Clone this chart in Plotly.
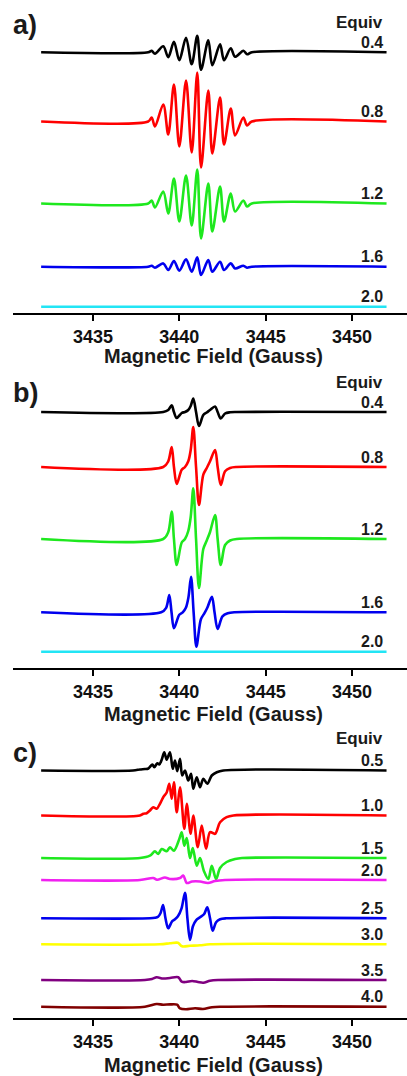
import plotly.graph_objects as go

# ---------------- data ----------------
# Panel a) : extrema positions (Gauss) shared by traces of the panel
a_field = [3432.0, 3438.20, 3438.40, 3438.59, 3439.07, 3439.36, 3439.69, 3440.00, 3440.39, 3440.72,
           3441.04, 3441.26, 3441.68, 3441.91, 3442.36, 3442.59, 3442.98, 3443.23, 3443.71, 3443.92,
           3444.20, 3452.0]
a_black = [0, 0, 1.5, -1.5, 6, -5, 10.5, -8, 14.5, -12, 16.5, -17.5, 12, -13, 8, -8, 4, -4.5, 1.5, -2, 0, 0]
a_red = [0, 0, 4, -5, 17, -13, 37, -25, 41, -31, 49, -46, 31, -32, 24, -23, 13, -14, 4, -4, 0, 0]
a_green = [0, 0, 3, -4, 12, -10, 25, -18, 28, -22, 34, -35, 20, -28, 17, -18, 10, -8, 3, -3, 0, 0]
a_blue = [0, 0, 1, -1, 3.3, -3.3, 5.7, -4, 7.3, -5, 9.3, -8.3, 6.7, -5, 5, -3.3, 3.3, -1.7, 1, -1, 0, 0]
a_cyan_field = [3432.0, 3452.0]
a_cyan = [0, 0]
a_labels = ["0.4", "0.8", "1.2", "1.6", "2.0"]

# Panel b)
b_field = [3432.0, 3439.07, 3439.36, 3439.56, 3439.69, 3439.85, 3440.14, 3440.33, 3440.52, 3440.66,
           3440.81, 3440.97, 3441.14, 3441.39, 3441.59, 3441.78, 3442.07, 3442.22, 3442.40, 3442.65,
           3442.94, 3443.32, 3452.0]
b_black = [0, 0, 2, 6.7, 0, -6, -1, 0, 2, 6, 13.4, 0, -14, -3, -0.5, 2, 5.5, 0, -6.5, -1.5, -0.3, 0, 0]
b_red = [0, 0, 5.7, 20, 0, -17, -2.7, 0, 5.7, 17, 40, 0, -38, -7.7, -1, 5.7, 17, 0, -18, -4.3, -1, 0, 0]
b_green = [0, 0, 7, 27.5, 0, -26, -3.5, 0, 8, 22, 50.7, 0, -49, -10, -1.5, 7, 24, 0, -26, -6, -1.5, 0, 0]
b_blue_field = [3432.0, 3438.95, 3439.24, 3439.42, 3439.55, 3439.69, 3440.00, 3440.20, 3440.38, 3440.53,
                3440.68, 3440.83, 3440.99, 3441.25, 3441.45, 3441.62, 3441.89, 3442.04, 3442.22, 3442.50,
                3442.80, 3443.20, 3452.0]
b_blue = [0, 0, 4.5, 17.3, 0, -16, -2.5, 0, 4.5, 15, 35.6, 0, -34.4, -7, -1, 4.5, 15.6, 0, -16.7, -4, -1, 0, 0]
b_cyan_field = [3432.0, 3452.0]
b_cyan = [0, 0]
b_labels = ["0.4", "0.8", "1.2", "1.6", "2.0"]

# Panel c)
c_black_field = [3432.0, 3437.32, 3437.72, 3438.01, 3438.21, 3438.44, 3438.55, 3438.73, 3438.84, 3438.98,
                 3439.13, 3439.27, 3439.46, 3439.62, 3439.75, 3439.88, 3440.04, 3440.17, 3440.33, 3440.52,
                 3440.68, 3440.81, 3441.01, 3441.20, 3441.39, 3441.62, 3441.88, 3442.17, 3442.55, 3452.0]
c_black = [0, 0, 1, 1.5, 2, 6, 3.3, 7.3, 6, 10.7, 18.3, 10.7, 18.3, 1.7, 10, -0.7, 11.7, -5, 0, -10,
           -3.3, -18.3, -6.7, -16.7, -8.3, -13.3, -5, -1.7, 0, 0]
c_red_field = [3432.0, 3437.72, 3437.92, 3438.11, 3438.30, 3438.49, 3438.69, 3438.88, 3439.07, 3439.27,
               3439.42, 3439.56, 3439.69, 3439.85, 3440.04, 3440.29, 3440.43, 3440.66, 3440.81, 3441.07,
               3441.30, 3441.55, 3441.78, 3442.07, 3442.36, 3442.74, 3443.13, 3452.0]
c_red = [0, 0, 1.7, 2.3, 5, 8.3, 6.7, 11.7, 18.3, 23, 31.7, 16.7, 33.3, 3.3, 28.3, -13.3, 11.7, -18.3, 0,
         -31.7, -10, -33.3, -16.7, -18.3, -6.7, -1.7, 0, 0]
c_green_field = [3432.0, 3437.72, 3438.30, 3438.59, 3438.78, 3438.98, 3439.27, 3439.46, 3439.69, 3440.00,
                 3440.14, 3440.29, 3440.43, 3440.62, 3440.78, 3441.01, 3441.20, 3441.43, 3441.68, 3441.88,
                 3442.13, 3442.36, 3442.74, 3443.23, 3443.63, 3452.0]
c_green = [0, 0, 2.3, 6.7, 4, 9, 6.7, 10.7, 7.3, 19, 25.7, 12.3, 20, 0, 10, -7.7, 0, -13.3, -21, -7.7,
           -21, -10, -4, -1, 0, 0]
c_magenta_field = [3432.0, 3437.72, 3438.49, 3438.71, 3439.17, 3439.46, 3440.04, 3440.23, 3440.43, 3440.74,
                   3441.20, 3441.66, 3442.07, 3442.65, 3452.0]
c_magenta = [0, 0, 2, 0.3, 2.5, 1, 2, 4.5, -3, -1.5, -1.5, -3, -1, 0, 0]
c_blue_field = [3432.0, 3438.30, 3438.59, 3438.77, 3438.91, 3439.06, 3439.20, 3439.36, 3439.58, 3439.75,
                3439.92, 3440.13, 3440.33, 3440.47, 3440.62, 3440.79, 3440.97, 3441.20, 3441.43, 3441.62,
                3441.78, 3441.93, 3442.13, 3442.36, 3442.70, 3452.0]
c_blue = [0, 0, 0.5, 1.5, 5, 13.3, 0, -10, -3, -1, 2, 10, 25.6, 0, -21.7, -8, -2, 1, 4, 11, 0, -12.4,
          -4, -1, 0, 0]
c_yellow_field = [3432.0, 3438.88, 3439.46, 3439.92, 3440.16, 3440.62, 3441.20, 3441.78, 3452.0]
c_yellow = [0, 0, 1, 1.5, -2, -1.5, -1, 0, 0]
c_purple_field = [3432.0, 3438.01, 3438.42, 3438.69, 3439.06, 3439.46, 3439.94, 3440.14, 3440.39, 3440.74,
                  3441.08, 3441.39, 3441.78, 3442.24, 3452.0]
c_purple = [0, 0, 1, 2.7, 1.5, 2, 2.7, -1.7, -2, -1, -2, -2.7, -0.7, 0, 0]
c_brown_field = [3432.0, 3438.01, 3438.69, 3439.06, 3439.46, 3439.87, 3440.04, 3440.39, 3440.91, 3441.37,
                 3441.89, 3442.36, 3452.0]
c_brown = [0, 0, 2.7, 2, 2.3, 2, -1.7, -2.5, -1.5, -2.3, -0.5, 0, 0]
c_labels = ["0.5", "1.0", "1.5", "2.0", "2.5", "3.0", "3.5", "4.0"]

tick_vals = [3435, 3440, 3445, 3450]
x_title = "Magnetic Field (Gauss)"
panel_names = ["a)", "b)", "c)"]

# ---------------- styling / layout constants ----------------
W, H = 407, 1076
FONT = "Liberation Sans, Arial, sans-serif"
# vertical stacking offsets (display units)
a_offsets = [260.7, 191.5, 109.5, 46.3, 6.3]
b_offsets = [256.3, 201.3, 129.3, 56.0, 16.6]
c_offsets = [247.8, 202.8, 160.3, 138.3, 100.0, 74.0, 38.3, 11.6]

panels = [
    dict(axis_px=313.0, top_px=0.0, equiv_px=22, label_px=25,
         title_px=356,
         traces=[(a_field, a_black, "#000000"), (a_field, a_red, "#ff0000"),
                 (a_field, a_green, "#1ee81e"), (a_field, a_blue, "#0000ee"),
                 (a_cyan_field, a_cyan, "#22e5f5")],
         offsets=a_offsets, labels=a_labels),
    dict(axis_px=668.3, top_px=368.0, equiv_px=382, label_px=393,
         title_px=714,
         traces=[(b_field, b_black, "#000000"), (b_field, b_red, "#ff0000"),
                 (b_field, b_green, "#1ee81e"), (b_blue_field, b_blue, "#0000ee"),
                 (b_cyan_field, b_cyan, "#22e5f5")],
         offsets=b_offsets, labels=b_labels),
    dict(axis_px=1018.3, top_px=728.0, equiv_px=738, label_px=753,
         title_px=1065,
         traces=[(c_black_field, c_black, "#000000"), (c_red_field, c_red, "#ff0000"),
                 (c_green_field, c_green, "#1ee81e"), (c_magenta_field, c_magenta, "#f020f0"),
                 (c_blue_field, c_blue, "#0000ee"), (c_yellow_field, c_yellow, "#ffff00"),
                 (c_purple_field, c_purple, "#800080"), (c_brown_field, c_brown, "#800000")],
         offsets=c_offsets, labels=c_labels),
]

x_left_px = 13.0
px_per_gauss = 17.27
x0 = 3440 - (179.3 - x_left_px) / px_per_gauss
x1 = 3440 + (W - 179.3) / px_per_gauss
label_x = x0 + (385 - x_left_px) / px_per_gauss

fig = go.Figure()
annotations = []
layout = dict(width=W, height=H, margin=dict(l=0, r=0, t=0, b=0), autosize=False,
              paper_bgcolor="white", plot_bgcolor="white", showlegend=False,
              font=dict(family=FONT, color="#111111"))

for i, p in enumerate(panels):
    n = "" if i == 0 else str(i + 1)
    xa, ya = "x" + n, "y" + n
    height = p["axis_px"] - p["top_px"]
    layout["xaxis" + n] = dict(
        domain=[x_left_px / W, 1.0], range=[x0, x1], anchor=ya,
        showline=True, linecolor="black", linewidth=2.2,
        ticks="outside", ticklen=6, tickwidth=2, tickcolor="black",
        tickvals=tick_vals, ticktext=[str(v) for v in tick_vals],
        tickfont=dict(family=FONT, size=18, color="#111111", weight="bold"),
        showgrid=False, zeroline=False, fixedrange=True)
    layout["yaxis" + n] = dict(
        domain=[1 - p["axis_px"] / H, 1 - p["top_px"] / H], range=[0, height],
        anchor=xa, visible=False, showgrid=False, zeroline=False, fixedrange=True)
    for (fx, vals, col), off, lab in zip(p["traces"], p["offsets"], p["labels"]):
        fig.add_trace(go.Scatter(
            x=fx, y=[off + v for v in vals], mode="lines", xaxis=xa, yaxis=ya,
            line=dict(color=col, width=2.6, shape="spline", smoothing=0.9),
            hoverinfo="skip", cliponaxis=False))
        annotations.append(dict(
            x=label_x, y=off + 10, xref=xa, yref=ya, text=lab, showarrow=False,
            xanchor="right", yanchor="middle",
            font=dict(family=FONT, size=16, color="#1a1a1a", weight="bold")))
    annotations.append(dict(
        x=385 / W, y=1 - p["equiv_px"] / H, xref="paper", yref="paper", text="Equiv",
        showarrow=False, xanchor="right", yanchor="middle",
        font=dict(family=FONT, size=17, color="#1a1a1a", weight="bold")))
    annotations.append(dict(
        x=11 / W, y=1 - p["label_px"] / H, xref="paper", yref="paper", text=panel_names[i],
        showarrow=False, xanchor="left", yanchor="middle",
        font=dict(family=FONT, size=27, color="#1a1a1a", weight="bold")))
    annotations.append(dict(
        x=213 / W, y=1 - p["title_px"] / H, xref="paper", yref="paper", text=x_title,
        showarrow=False, xanchor="center", yanchor="middle",
        font=dict(family=FONT, size=20, color="#1a1a1a", weight="bold")))

layout["annotations"] = annotations
fig.update_layout(**layout)
fig.write_html("out.html", config={"displayModeBar": False})
